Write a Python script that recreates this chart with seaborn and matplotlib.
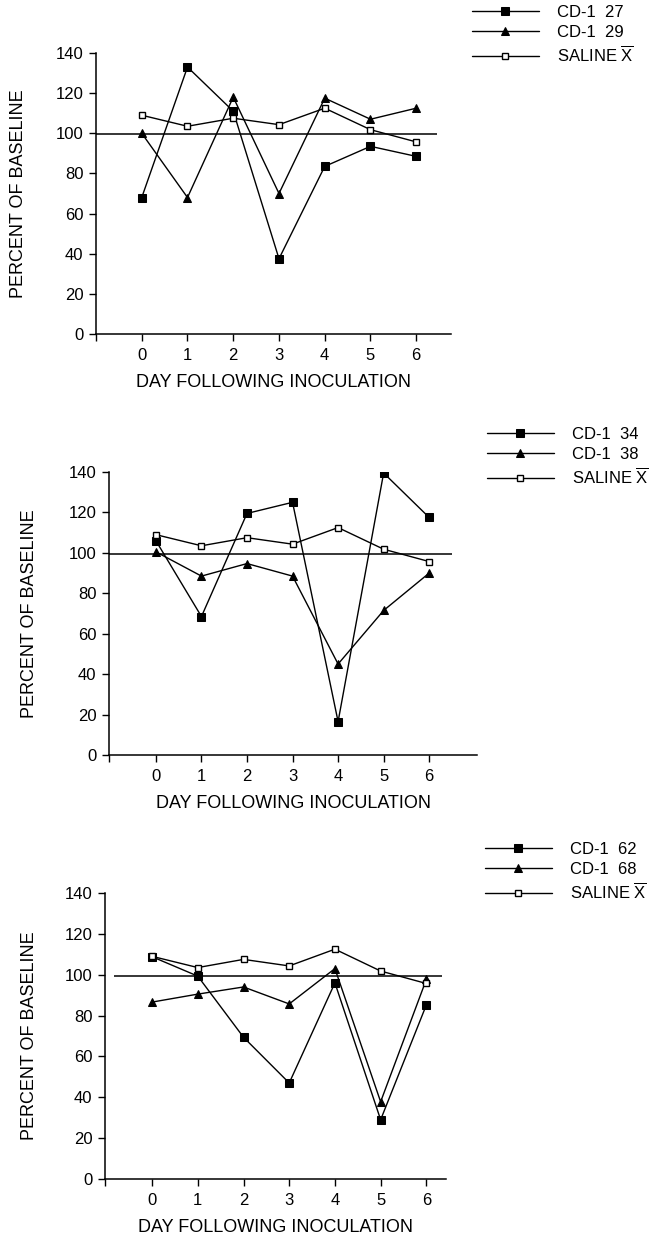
import matplotlib
matplotlib.use("Agg")
import matplotlib.pyplot as plt
import seaborn as sns
import pandas as pd

# values (percent of baseline)
days = [0, 1, 2, 3, 4, 5, 6]
saline = [109, 103.5, 107.5, 104.3, 112.5, 101.8, 95.7]
cd1_27 = [68, 133, 111, 37.5, 83.5, 93.5, 88.5]
cd1_29 = [100, 68, 118, 70, 117.5, 107, 112.5]
cd1_34 = [106, 68.5, 119.5, 125, 16.5, 139.5, 117.5]
cd1_38 = [100.5, 88.5, 94.7, 88.5, 45, 71.5, 90]
cd1_62 = [108.8, 99.3, 69.4, 47, 96, 29, 85.2]
cd1_68 = [86.6, 90.5, 94, 85.7, 103, 37.8, 97.7]
baseline = 99.5

panels = [
    (("CD-1  27", cd1_27), ("CD-1  29", cd1_29)),
    (("CD-1  34", cd1_34), ("CD-1  38", cd1_38)),
    (("CD-1  62", cd1_62), ("CD-1  68", cd1_68)),
]
saline_label = r"SALINE $\overline{\mathrm{X}}$"

sns.set_style("ticks")
plt.rcParams["font.family"] = ["Liberation Sans", "DejaVu Sans"]
plt.rcParams["mathtext.fontset"] = "custom"
plt.rcParams["mathtext.rm"] = "Liberation Sans"
plt.rcParams["text.color"] = "black"
plt.rcParams["axes.labelcolor"] = "black"

W, H = 659, 1238
fig = plt.figure(figsize=(W / 100, H / 100), dpi=100)

# pixel layout of each panel: left, right, top, bottom, xlim, baseline span, legend box, ylabel x
layout = [
    dict(l=96, r=451, t=53, b=334, xlim=(-1.0, 6.76), hl=(-1.0, 6.45), leg=(472, 5), yl=27),
    dict(l=109, r=477, t=472, b=755, xlim=(-1.03, 7.05), hl=(-1.03, 6.5), leg=(487, 427), yl=38),
    dict(l=105, r=446, t=893, b=1179, xlim=(-1.03, 6.43), hl=(-0.83, 6.35), leg=(485, 842), yl=38),
]

for (sq, tri), lay in zip(panels, layout):
    ax = fig.add_axes([lay["l"] / W, 1 - lay["b"] / H,
                       (lay["r"] - lay["l"]) / W, (lay["b"] - lay["t"]) / H])
    df = pd.DataFrame({"day": days, "sq": sq[1], "tri": tri[1], "sal": saline})

    ax.hlines(baseline, lay["hl"][0], lay["hl"][1], color="black", lw=1.1, zorder=1)
    l1 = sns.lineplot(data=df, x="day", y="sq", ax=ax, color="black", lw=1.0,
                      marker="s", markersize=5.5, markerfacecolor="black",
                      markeredgecolor="black", label=sq[0], legend=False).lines[-1]
    l2 = sns.lineplot(data=df, x="day", y="tri", ax=ax, color="black", lw=1.0,
                      marker="^", markersize=5.5, markerfacecolor="black",
                      markeredgecolor="black", label=tri[0], legend=False).lines[-1]
    l3 = sns.lineplot(data=df, x="day", y="sal", ax=ax, color="black", lw=1.0,
                      marker="s", markersize=5, markerfacecolor="white",
                      markeredgecolor="black", markeredgewidth=1.0,
                      label=saline_label, legend=False).lines[-1]

    ax.set_xlim(*lay["xlim"])
    ax.set_ylim(0, 140)
    ax.set_xticks(days)
    ax.set_xticks([lay["xlim"][0]], minor=True)
    ax.set_yticks(range(0, 141, 20))
    ax.tick_params(axis="both", which="both", direction="out", length=5, width=1.0,
                   labelsize=12, color="black", labelcolor="black")
    ax.tick_params(axis="x", which="major", pad=5)
    ax.tick_params(axis="y", pad=4)
    sns.despine(ax=ax)
    for s in ("left", "bottom"):
        ax.spines[s].set_linewidth(1.1)
        ax.spines[s].set_color("black")

    ax.set_xlabel("DAY FOLLOWING INOCULATION", fontsize=13, labelpad=8)
    ax.set_ylabel("PERCENT OF BASELINE", fontsize=13)
    ax.yaxis.set_label_coords((lay["yl"] - lay["l"]) / (lay["r"] - lay["l"]), 0.5)

    fig.legend(handles=[l1, l2, l3], labels=[sq[0], tri[0], saline_label],
               loc="upper left", bbox_to_anchor=(lay["leg"][0] / W, 1 - lay["leg"][1] / H),
               frameon=False, fontsize=12, handlelength=4.0, handletextpad=1.1,
               labelspacing=0.3, borderpad=0, borderaxespad=0, numpoints=1)

fig.savefig("out.png", dpi=100)
